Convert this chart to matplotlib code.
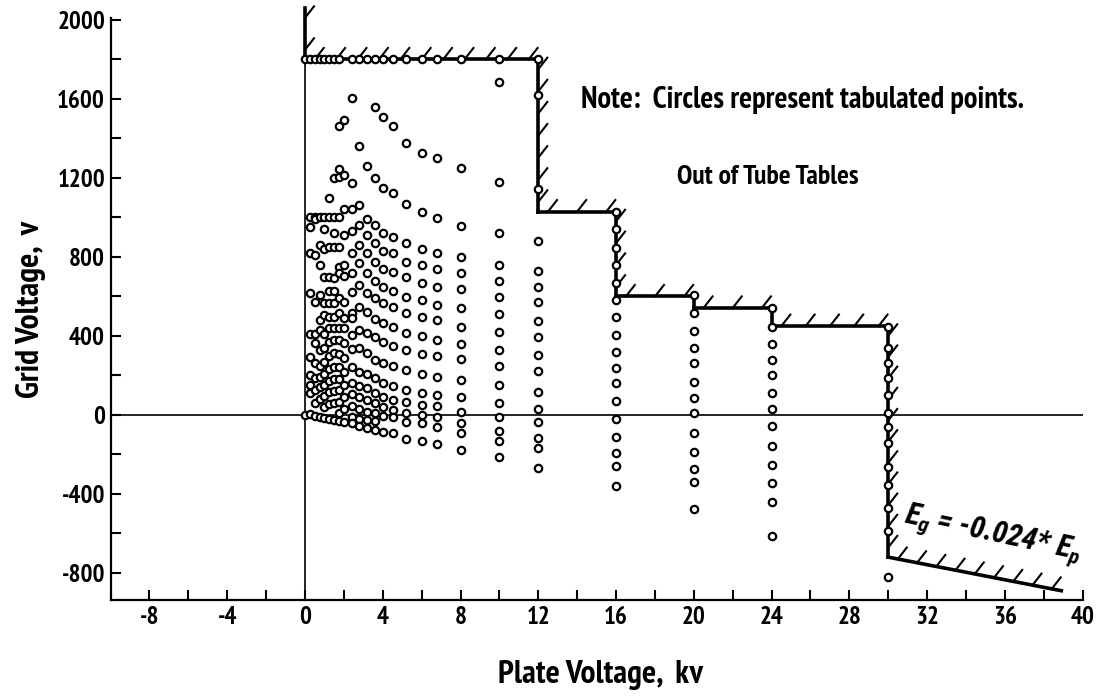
import numpy as np
import matplotlib
matplotlib.use('Agg')
import matplotlib.pyplot as plt
import matplotlib.patheffects as pe

plt.rcParams['font.family'] = ['PT Sans Narrow', 'Liberation Sans Narrow', 'DejaVu Sans']
plt.rcParams['font.weight'] = 'bold'
plt.rcParams['axes.labelweight'] = 'bold'
plt.rcParams['mathtext.fontset'] = 'custom'
plt.rcParams['mathtext.it'] = 'Roboto Condensed:italic:bold'
plt.rcParams['mathtext.rm'] = 'Roboto Condensed:bold'

# tabulated points: one list of grid voltages (v) per plate voltage column (kv)
plate_kv = [0, 0.25, 0.5, 0.75, 1.0, 1.25, 1.5, 1.75, 2.0, 2.4, 2.8, 3.2, 3.6, 4.0, 4.5,
            5.2, 6.0, 6.8, 8.0, 10.0, 12.0, 16.0, 20.0, 24.0, 30.0]
grid_v = [
    [1800, 0],
    [1800, 1000, 950, 820, 616, 410, 295, 200, 150, 110, 5],
    [1800, 1000, 990, 810, 570, 411, 363, 262, 186, 125, 60, -5],
    [1800, 1000, 860, 760, 608, 481, 430, 330, 250, 190, 140, 80, -10],
    [1800, 1000, 940, 840, 700, 565, 506, 411, 340, 270, 205, 150, 95, 40, -15],
    [1800, 1100, 1000, 850, 700, 627, 565, 498, 440, 370, 300, 235, 170, 115, 55, -20],
    [1800, 1202, 1000, 920, 850, 692, 627, 565, 498, 440, 380, 312, 245, 180, 120, 60, -25],
    [1800, 1463, 1244, 1207, 1000, 852, 750, 717, 590, 515, 440, 380, 310, 245, 180, 125, 65, 10, -30],
    [1494, 1215, 1041, 911, 759, 704, 573, 490, 440, 363, 290, 215, 150, 90, 30, -35],
    [1800, 1603, 1176, 1041, 932, 819, 717, 624, 518, 490, 405, 335, 245, 160, 105, 45, -10, -42],
    [1800, 1362, 1063, 962, 861, 768, 658, 548, 430, 338, 219, 147, 93, 29, -20, -55],
    [1800, 1262, 991, 911, 819, 717, 619, 523, 414, 312, 208, 135, 76, 17, -25, -67],
    [1800, 1560, 1198, 962, 872, 776, 680, 591, 485, 397, 278, 186, 113, 59, 12, -30, -76],
    [1800, 1511, 1148, 922, 832, 738, 650, 566, 467, 371, 265, 160, 93, 42, -5, -85],
    [1800, 1463, 1122, 903, 819, 726, 629, 545, 444, 349, 248, 147, 76, 25, -12, -93],
    [1800, 1379, 1068, 869, 776, 697, 599, 518, 417, 329, 228, 127, 67, 12, -34, -123],
    [1800, 1328, 1029, 839, 759, 667, 582, 498, 400, 309, 208, 113, 51, 0, -39, -130],
    [1800, 1300, 996, 819, 738, 650, 557, 481, 380, 299, 194, 101, 46, -8, -59, -147],
    [1800, 1252, 957, 802, 717, 636, 540, 447, 358, 282, 177, 90, 17, -39, -90, -177],
    [1800, 1688, 1181, 920, 759, 678, 599, 510, 422, 329, 248, 152, 59, -8, -79, -130, -214],
    [1800, 1620, 1143, 881, 731, 647, 574, 477, 393, 304, 224, 118, 29, -37, -118, -169, -270],
    [1029, 940, 847, 758, 670, 582, 498, 405, 321, 236, 160, 71, -22, -110, -194, -257, -359],
    [608, 518, 427, 341, 265, 169, 85, 8, -93, -186, -275, -338, -477],
    [540, 447, 360, 278, 203, 110, 29, -54, -157, -253, -346, -439, -613],
    [447, 341, 262, 189, 101, 8, -59, -143, -262, -354, -469, -586, -819],
]

# limit of the tube tables (hatched line), last leg is Eg = -0.024 Ep
boundary_kv = [0, 0, 12, 12, 16, 16, 20, 20, 24, 24, 30, 30, 38.9]
boundary_v = [2060, 1800, 1800, 1030, 1030, 600, 600, 542, 542, 450, 450, -720, -890]

x_ticks = np.arange(-8, 41, 4)
x_minor = np.arange(-6, 40, 4)
y_ticks = np.arange(-800, 2001, 400)
y_minor = np.arange(-600, 1801, 400)

fig = plt.figure(figsize=(11.05, 6.98), dpi=100)
ax = fig.add_axes([0.1001, 0.1404, 0.8797, 0.8338])
ax.set_xlim(-10, 40)
ax.set_ylim(-937, 2010)

for side in ['top', 'right']:
    ax.spines[side].set_visible(False)
for side in ['left', 'bottom']:
    ax.spines[side].set_linewidth(1.6)

ax.set_xticks(x_ticks)
ax.set_xticklabels([str(t) for t in x_ticks])
ax.set_xticks(x_minor, minor=True)
ax.set_yticks(y_ticks)
ax.set_yticklabels([str(t) for t in y_ticks])
ax.set_yticks(y_minor, minor=True)
ax.tick_params(which='both', direction='in', length=7, width=1.5, labelsize=18, pad=4)

# reference lines through the origin
ax.axhline(0, color='black', lw=1.2, zorder=2)
ax.plot([0, 0], [-937, 1800], color='black', lw=1.2, zorder=2)

# hatched boundary, one segment at a time so the hatches all lean the same way
fig.canvas.draw()
for i in range(len(boundary_kv) - 1):
    xs = boundary_kv[i:i + 2]
    ys = boundary_v[i:i + 2]
    p0 = ax.transData.transform((xs[0], ys[0]))
    p1 = ax.transData.transform((xs[1], ys[1]))
    seg_ang = np.degrees(np.arctan2(p1[1] - p0[1], p1[0] - p0[0]))
    ax.plot(xs, ys, color='black', lw=2.6, solid_capstyle='projecting', zorder=3, clip_on=False,
            path_effects=[pe.withTickedStroke(spacing=14, angle=52 - seg_ang, length=0.75, linewidth=1.5)])

# tabulated points
pts_x = []
pts_y = []
for kv, vals in zip(plate_kv, grid_v):
    pts_x += [kv] * len(vals)
    pts_y += vals
ax.plot(pts_x, pts_y, 'o', ms=5.3, mfc='white', mec='black', mew=1.6, zorder=5, clip_on=False)

ax.text(14.2, 1595, 'Note:  Circles represent tabulated points.', fontsize=22, ha='left', va='center')
ax.text(23.8, 1205, 'Out of Tube Tables', fontsize=20, ha='center', va='center')
ax.text(35.4, -605, r'$E_g$ = -0.024* $E_p$', fontsize=22, style='italic', rotation=-12,
        family=['Roboto Condensed', 'PT Sans Narrow', 'DejaVu Sans'],
        ha='center', va='center', rotation_mode='anchor')

ax.set_ylabel('Grid Voltage,  v', fontsize=24, va='center')
ax.set_xlabel('Plate Voltage,  kv', fontsize=24, va='center')
ax.yaxis.set_label_coords(-0.082, 0.5)
ax.xaxis.set_label_coords(0.5035, -0.129)

plt.savefig('out.png', dpi=100)
